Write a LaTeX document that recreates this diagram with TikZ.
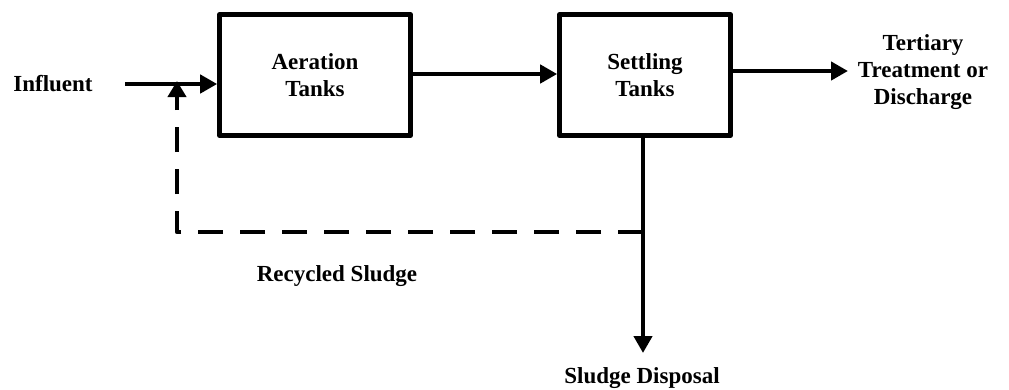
\documentclass[tikz,border=0pt]{standalone}
\usepackage{fontspec}
\setmainfont{Liberation Serif}
\usetikzlibrary{arrows.meta}
\begin{document}
\begin{tikzpicture}[x=1pt,y=-1pt,
  every node/.style={font=\fontsize{23}{27}\selectfont\bfseries, align=center, inner sep=0pt},
  tank/.style={draw, line width=4.6pt, line join=round, minimum height=121pt},
  flow/.style={line width=4.6pt, -{Triangle[length=17pt,width=18pt]}},
  plain/.style={line width=4.6pt},
  recycle/.style={line width=4.6pt, dash pattern=on 25pt off 17pt, line join=round,
    -{Triangle[length=16pt,width=18pt]}}]
  \useasboundingbox (0,0) rectangle (1009,389);

  % process units
  \node[tank, minimum width=191pt] (aer) at (315,75) {Aeration\\Tanks};
  \node[tank, minimum width=171pt] (set) at (645,75) {Settling\\Tanks};

  % labels
  \node (inf) at (53,84) {Influent};
  \node (ter) at (923,72) {Tertiary\\Treatment or\\Discharge};
  \node (rec) at (337,276) {Recycled Sludge};
  \node[anchor=base] (disp) at (642,383) {Sludge Disposal};

  % junction points
  \coordinate (instart) at (125,84);
  \coordinate (merge) at (177,84);
  \coordinate (corner) at (177,232);
  \coordinate (split) at (643,232);
  \coordinate (drop) at (643,353);
  \coordinate (terend) at (848,71);

  % main flow
  \draw[flow] (instart) -- (aer.west |- instart);
  \draw[flow] (aer.east |- 0,74) -- (set.west |- 0,74);
  \draw[flow] (set.east |- terend) -- (terend);
  \draw[plain] (set.south -| split) -- (split);
  \draw[flow] (split) -- (drop);

  % sludge return line
  \draw[recycle] (split) -- (corner) -- ([yshift=3pt]merge);
\end{tikzpicture}
\end{document}
